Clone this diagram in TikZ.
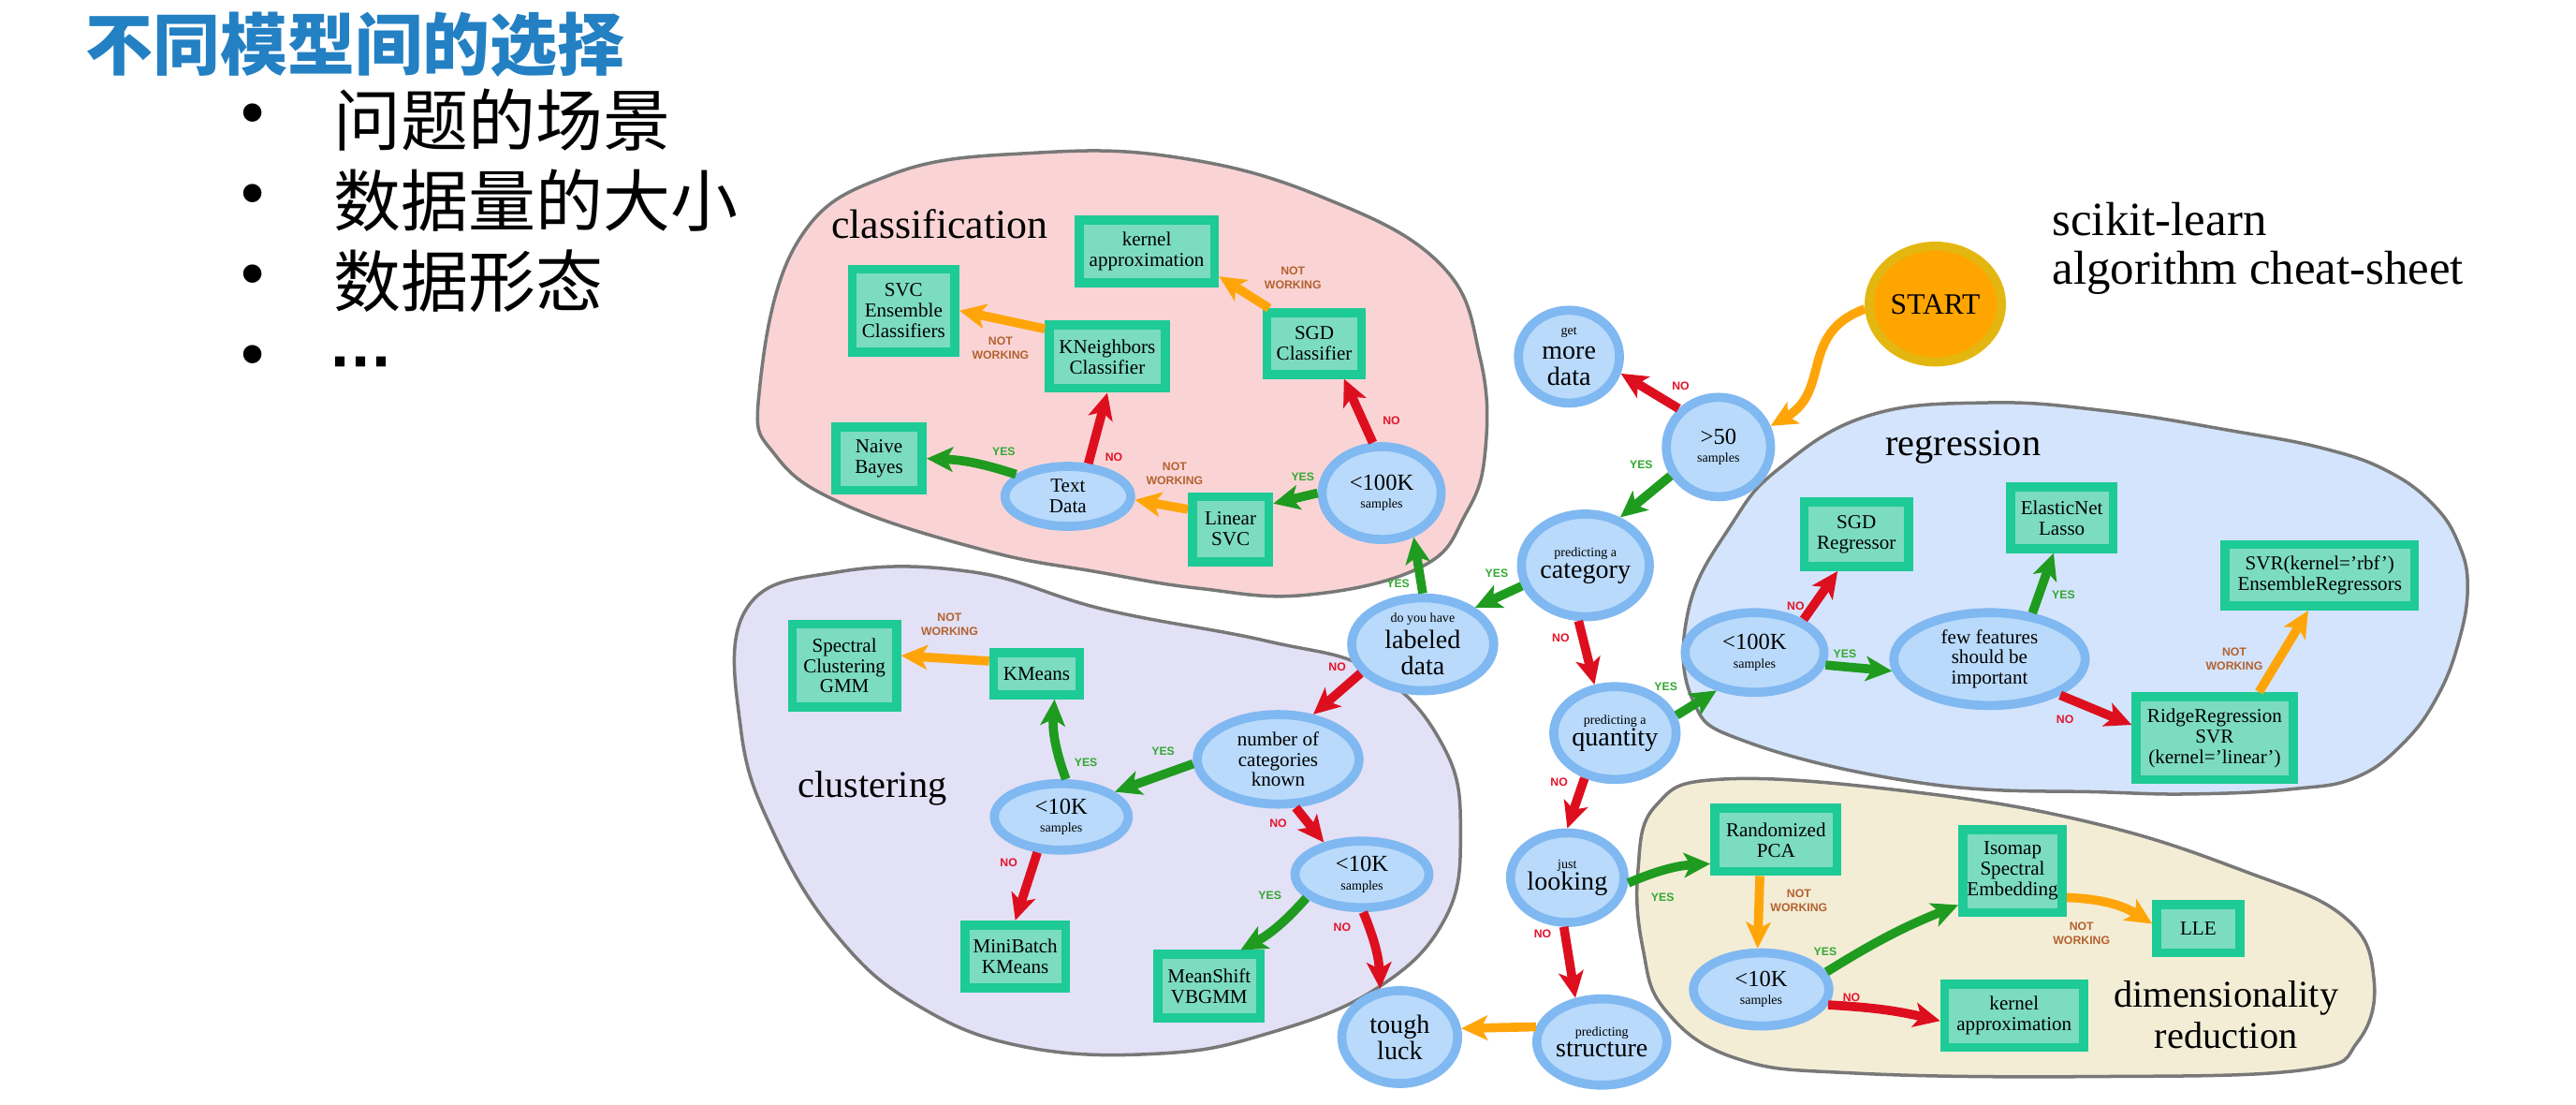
\documentclass[tikz,border=0pt]{standalone}
\usepackage{fontspec}
\setmainfont{Liberation Serif}
\setsansfont{Liberation Sans}
\newfontfamily\cjk{Noto Sans CJK SC}
\usetikzlibrary{shapes.geometric,arrows.meta}

\definecolor{titleblue}{HTML}{2380C3}
\definecolor{qfill}{HTML}{B9DAFB}
\definecolor{qring}{HTML}{80B8F1}
\definecolor{afill}{HTML}{7CDCBF}
\definecolor{aring}{HTML}{1ECA96}
\definecolor{startfill}{HTML}{FFA500}
\definecolor{startring}{HTML}{E3B710}
\definecolor{yescol}{HTML}{1F9B1F}
\definecolor{nocol}{HTML}{DD0F1F}
\definecolor{nwcol}{HTML}{FFA50A}
\definecolor{yestext}{HTML}{33A833}
\definecolor{notext}{HTML}{E3142A}
\definecolor{nwtext}{HTML}{B3622F}
\definecolor{clsbg}{HTML}{FAD4D5}
\definecolor{clubg}{HTML}{E3E1F6}
\definecolor{regbg}{HTML}{D4E4FC}
\definecolor{dimbg}{HTML}{F4EDD6}
\definecolor{blobline}{HTML}{787878}

\newcommand{\smalltxt}[1]{{\fontsize{8}{8}\selectfont #1}}
\newcommand{\numtxt}[1]{{\fontsize{14}{14}\selectfont #1}}

\tikzstyle{blob} = [draw=blobline, line width=2pt]
\tikzstyle{bloblbl} = [anchor=base, inner sep=0pt, font=\fontsize{23}{23}\selectfont]
\tikzstyle{qnode} = [ellipse, draw=qring, fill=qfill, line width=5.5pt,
    inner sep=0pt, align=center, font=\fontsize{16}{16}\selectfont]
\tikzstyle{qsmall} = [font=\fontsize{12}{12.4}\selectfont]
\tikzstyle{algo} = [rectangle, draw=aring, fill=afill, line width=5.5pt,
    inner sep=0pt, align=center, font=\fontsize{12}{12.5}\selectfont]
\tikzstyle{yesarrow} = [draw=yescol, line width=5.5pt, -{Stealth[length=16pt,width=15pt,inset=4pt]}]
\tikzstyle{noarrow} = [draw=nocol, line width=5.5pt, -{Stealth[length=16pt,width=15pt,inset=4pt]}]
\tikzstyle{nwarrow} = [draw=nwcol, line width=5.5pt, -{Stealth[length=16pt,width=15pt,inset=4pt]}]
\tikzstyle{yeslbl} = [inner sep=0pt, text=yestext, font=\sffamily\bfseries\fontsize{7}{8}\selectfont]
\tikzstyle{nolbl} = [inner sep=0pt, text=notext, font=\sffamily\bfseries\fontsize{7}{8}\selectfont]
\tikzstyle{nwlbl} = [inner sep=0pt, text=nwtext, align=center, font=\sffamily\bfseries\fontsize{7}{8.5}\selectfont]
\tikzset{sz/.style 2 args={minimum width=#1pt-5.5pt, minimum height=#2pt-5.5pt}}

\begin{document}
\begin{tikzpicture}[x=1pt, y=-1pt]
\useasboundingbox (0,0) rectangle (1568,672);

% slide text
\node[anchor=west, inner sep=0pt, text=titleblue, font=\cjk\bfseries\fontsize{41}{41}\selectfont] (title) at (52,27) {不同模型间的选择};
\foreach \i in {1,...,4}
  \node[inner sep=0pt, font=\sffamily\fontsize{41}{41}\selectfont] (dot\i) at (154,24+49*\i) {•};
\foreach \txt [count=\i] in {问题的场景,数据量的大小,数据形态}
  \node[anchor=west, inner sep=0pt, font=\cjk\fontsize{41}{41}\selectfont] (item\i) at (203,24+49*\i) {\txt};
\node[anchor=base west, inner sep=0pt, font=\sffamily\bfseries\fontsize{41}{41}\selectfont] (item4) at (201,234) {·\hspace{-1pt}·\hspace{-1pt}·};

\node[anchor=base west, inner sep=0pt, font=\fontsize{29}{29}\selectfont] (sk1) at (1249,143.5) {scikit-learn};
\node[anchor=base west, inner sep=0pt, font=\fontsize{29}{29}\selectfont] (sk2) at (1249,173) {algorithm cheat-sheet};

% the four regions
\draw[blob, fill=clsbg] plot[smooth cycle, tension=0.7] coordinates {(462,240) (485,148) (543,106) (630,93) (718,96) (805,120) (877,161) (901,218) (904,275) (892,313) (865,345) (795,362) (730,358) (668,348) (600,335) (514,307) (472,277)};
\draw[blob, fill=clubg] plot[smooth cycle, tension=0.7] coordinates {(454,371) (510,348) (592,348) (673,371) (771,390) (837,409) (879,455) (889,507) (879,560) (837,602) (771,629) (706,641) (624,637) (559,612) (510,570) (471,507) (451,444)};
\draw[blob, fill=regbg] plot[smooth cycle, tension=0.7] coordinates {(1028,370) (1054,319) (1083,285) (1137,253) (1210,245) (1282,250) (1358,262) (1415,273) (1454,287) (1482,308) (1497,332) (1502,357) (1497,389) (1484,423) (1463,452) (1434,473) (1396,480) (1339,483) (1282,482) (1174,477) (1065,452) (1030,425)};
\draw[blob, fill=dimbg] plot[smooth cycle, tension=0.7] coordinates {(997,530) (1008,490) (1050,474) (1166,482) (1275,501) (1366,530) (1427,558) (1445,596) (1435,634) (1402,651) (1275,655) (1130,653) (1057,644) (1014,615) (1000,577)};

\node[bloblbl, font=\fontsize{25}{25}\selectfont] (clslbl) at (572,145) {classification};
\node[bloblbl] (clulbl) at (531,485) {clustering};
\node[bloblbl] (reglbl) at (1195,277) {regression};
\node[bloblbl] (dimlbl1) at (1355,613) {dimensionality};
\node[bloblbl] (dimlbl2) at (1355,638) {reduction};

% decisions
\node[qnode, draw=startring, fill=startfill, sz={86}{76}, font=\fontsize{18}{18}\selectfont] (start) at (1178,185) {START};
\node[qnode, sz={67}{62}] (moredata) at (955,217) {\smalltxt{get}\\[-1pt] more\\ data};
\node[qnode, sz={69}{66}] (gt50) at (1046,272) {\numtxt{>50}\\[-5pt] \smalltxt{samples}};
\node[qnode, sz={80}{68}] (cat) at (965,344) {\smalltxt{predicting a}\\[-3pt] category};
\node[qnode, sz={92}{62}] (labeled) at (866,392) {\smalltxt{do you have}\\ labeled\\ data};
\node[qnode, sz={78}{62}] (cls100k) at (841,300) {\numtxt{<100K}\\[-5pt] \smalltxt{samples}};
\node[qnode, qsmall, sz={82}{42}] (textdata) at (650,302) {Text\\ Data};
\node[qnode, qsmall, sz={104}{60}] (ncat) at (778,462) {number of\\ categories\\ known};
\node[qnode, sz={87}{46}] (clu10k) at (646,497) {\numtxt{<10K}\\[-5pt] \smalltxt{samples}};
\node[qnode, sz={87}{46}] (clu10kb) at (829,532) {\numtxt{<10K}\\[-5pt] \smalltxt{samples}};
\node[qnode, sz={76}{62}] (tough) at (852,631) {tough\\ luck};
\node[qnode, sz={80}{62}] (quantity) at (983,446) {\smalltxt{predicting a}\\[-3pt] quantity};
\node[qnode, sz={90}{54}] (reg100k) at (1068,397) {\numtxt{<100K}\\[-5pt] \smalltxt{samples}};
\node[qnode, qsmall, sz={122}{62}] (fewfeat) at (1211,401) {few features\\ should be\\ important};
\node[qnode, sz={74}{60}] (looking) at (954,534) {\smalltxt{just}\\[-3pt] looking};
\node[qnode, sz={80}{58}] (structure) at (975,634) {\smalltxt{predicting}\\[-3pt] structure};
\node[qnode, sz={88}{50}] (dim10k) at (1072,602) {\numtxt{<10K}\\[-5pt] \smalltxt{samples}};

% estimators
\node[algo, sz={88}{44}] (kapprox1) at (698,153) {kernel\\ approximation};
\node[algo, sz={68}{56}] (svcens) at (550,189) {SVC\\ Ensemble\\ Classifiers};
\node[algo, sz={76}{44}] (kneigh) at (674,217) {KNeighbors\\ Classifier};
\node[algo, sz={63}{43}] (sgdcls) at (800,209) {SGD\\ Classifier};
\node[algo, sz={58}{44}] (naive) at (535,279) {Naive\\ Bayes};
\node[algo, sz={52}{45}] (linsvc) at (749,322) {Linear\\ SVC};
\node[algo, sz={69}{56}] (spectral) at (514,405) {Spectral\\ Clustering\\ GMM};
\node[algo, sz={58}{31}] (kmeans) at (631,410) {KMeans};
\node[algo, sz={67}{44}] (minibatch) at (618,582) {MiniBatch\\ KMeans};
\node[algo, sz={68}{44}] (meanshift) at (736,600) {MeanShift\\ VBGMM};
\node[algo, sz={69}{45}] (sgdreg) at (1130,325) {SGD\\ Regressor};
\node[algo, sz={68}{43}] (elastic) at (1255,315) {ElasticNet\\ Lasso};
\node[algo, sz={121}{43}] (svrrbf) at (1412,350) {SVR(kernel='rbf')\\ EnsembleRegressors};
\node[algo, sz={101}{56}] (ridge) at (1348,449) {RidgeRegression\\ SVR\\ (kernel='linear')};
\node[algo, sz={80}{44}] (rpca) at (1081,511) {Randomized\\ PCA};
\node[algo, sz={66}{56}] (isomap) at (1225,530) {Isomap\\ Spectral\\ Embedding};
\node[algo, sz={56}{35}] (lle) at (1338,565) {LLE};
\node[algo, sz={90}{44}] (kapprox2) at (1226,618) {kernel\\ approximation};

% connectors
\draw[nwarrow] (start.184) to[out=200, in=30, looseness=1.2] (gt50.22);
\draw[noarrow] (gt50.136) -- (moredata.-18);
\draw[yesarrow] (gt50.211) -- (cat.54);
\draw[yesarrow] (cat.198) -- (labeled.35);
\draw[yesarrow] (labeled.90) -- (cls100k.-54);
\draw[noarrow] (cls100k.100) -- (sgdcls.-50);
\draw[nwarrow] (sgdcls.142) -- (kapprox1.-19);
\draw[yesarrow] (cls100k.180) -- (linsvc.31);
\draw[nwarrow] (linsvc.155) -- (textdata.-3);
\draw[yesarrow] (textdata.157) to[bend right=8] (naive.0);
\draw[noarrow] (textdata.58) -- (kneigh.south);
\draw[nwarrow] (kneigh.156) -- (svcens.0);
\draw[noarrow] (labeled.205) -- (ncat.52);
\draw[yesarrow] (ncat.183) -- (clu10k.25);
\draw[yesarrow] (clu10k.83) to[bend left=12] (kmeans.-55);
\draw[nwarrow] (kmeans.165) -- (spectral.10);
\draw[noarrow] (clu10k.236) -- (minibatch.north);
\draw[noarrow] (ncat.-70) -- (clu10kb.140);
\draw[yesarrow] (clu10kb.203) to[bend left=10] (meanshift.49);
\draw[noarrow] (clu10kb.-88) to[bend left=10] (tough.112);
\draw[nwarrow] (structure.167) -- (tough.8);
\draw[noarrow] (cat.-97) -- (quantity.113);
\draw[yesarrow] (quantity.16) -- (reg100k.225);
\draw[noarrow] (reg100k.34) -- (sgdreg.243);
\draw[yesarrow] (reg100k.-10) -- (fewfeat.187);
\draw[yesarrow] (fewfeat.47) -- (elastic.257);
\draw[noarrow] (fewfeat.-27) -- (ridge.171);
\draw[nwarrow] (ridge.46) -- (svrrbf.252);
\draw[noarrow] (quantity.236) -- (looking.north);
\draw[yesarrow] (looking.-5) to[bend left=10] (rpca.200);
\draw[noarrow] (looking.266) -- (structure.121);
\draw[nwarrow] (rpca.246) -- (dim10k.95);
\draw[yesarrow] (dim10k.15) to[bend left=5] (isomap.212);
\draw[nwarrow] (isomap.-26) to[bend left=15] (lle.174);
\draw[noarrow] (dim10k.-13) to[bend left=5] (kapprox2.184);

% connector labels
\node[nolbl] (l1) at (1023,235) {NO};
\node[yeslbl] (l2) at (999,283) {YES};
\node[yeslbl] (l3) at (911,349) {YES};
\node[yeslbl] (l4) at (851,355) {YES};
\node[nolbl] (l5) at (847,256) {NO};
\node[nwlbl] (l6) at (787,169) {NOT\\ WORKING};
\node[yeslbl] (l7) at (793,290) {YES};
\node[nwlbl] (l8) at (715,288) {NOT\\ WORKING};
\node[yeslbl] (l9) at (611,275) {YES};
\node[nolbl] (l10) at (678,278) {NO};
\node[nwlbl] (l11) at (609,212) {NOT\\ WORKING};
\node[nolbl] (l12) at (814,406) {NO};
\node[yeslbl] (l13) at (708,457) {YES};
\node[yeslbl] (l14) at (661,464) {YES};
\node[nwlbl] (l15) at (578,380) {NOT\\ WORKING};
\node[nolbl] (l16) at (614,525) {NO};
\node[nolbl] (l17) at (778,501) {NO};
\node[yeslbl] (l18) at (773,545) {YES};
\node[nolbl] (l19) at (817,564) {NO};
\node[nolbl] (l20) at (950,388) {NO};
\node[yeslbl] (l21) at (1014,418) {YES};
\node[nolbl] (l22) at (1093,369) {NO};
\node[yeslbl] (l23) at (1123,398) {YES};
\node[yeslbl] (l24) at (1256,362) {YES};
\node[nolbl] (l25) at (1257,438) {NO};
\node[nwlbl] (l26) at (1360,401) {NOT\\ WORKING};
\node[nolbl] (l27) at (949,476) {NO};
\node[yeslbl] (l28) at (1012,546) {YES};
\node[nolbl] (l29) at (939,568) {NO};
\node[nwlbl] (l30) at (1095,548) {NOT\\ WORKING};
\node[yeslbl] (l31) at (1111,579) {YES};
\node[nwlbl] (l32) at (1267,568) {NOT\\ WORKING};
\node[nolbl] (l33) at (1127,607) {NO};
\end{tikzpicture}
\end{document}
